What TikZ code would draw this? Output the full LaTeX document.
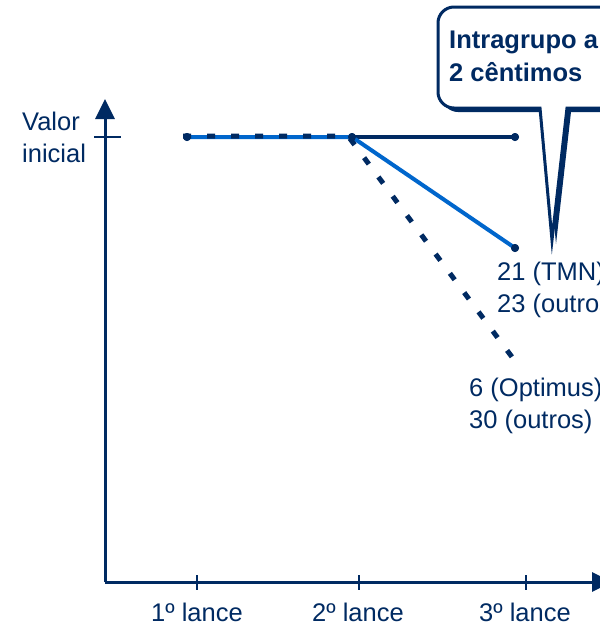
\documentclass[tikz,border=0pt]{standalone}
\usepackage{fontspec}
\setmainfont{Liberation Sans}
\usetikzlibrary{arrows.meta}
\definecolor{navy}{RGB}{0,42,98}
\definecolor{lineblue}{RGB}{0,102,204}
\tikzset{
  axisline/.style={draw=navy, line width=3pt},
  tickline/.style={draw=navy, line width=2pt},
  lbl/.style={text=navy, font=\fontsize{25.5}{32}\selectfont, inner sep=0pt},
  calltext/.style={text=navy, font=\fontsize{25.5}{33}\selectfont\bfseries, inner sep=0pt},
  dot/.style={circle, fill=navy, minimum size=8pt, inner sep=0pt},
  flatline/.style={draw=navy, line width=3.5pt},
  blueline/.style={draw=lineblue, line width=4pt},
  dashline/.style={draw=navy, line width=5pt, dash pattern=on 8pt off 16pt},
}
\begin{document}
\begin{tikzpicture}[x=1pt,y=-1pt]
\useasboundingbox (0,0) rectangle (600,627);

% axes
\coordinate (o) at (105,582);
\coordinate (ytop) at (105,99);
\coordinate (xend) at (612,582);
\draw[axisline, -{Triangle[width=19pt,length=20pt]}] (o) -- (ytop);
\draw[axisline, -{Triangle[width=19pt,length=20pt]}] (o) -- (xend);

% ticks
\draw[tickline] (94,137) -- (121,137);
\foreach \x in {197,359,526} \draw[tickline] (\x,575) -- (\x,590);

% axis labels (base anchor sits on the last line)
\node[lbl, anchor=base west, align=left] (yl) at (22,162) {Valor\\inicial};
\node[lbl, anchor=base] (l1) at (197,621) {1º lance};
\node[lbl, anchor=base] (l2) at (358,621) {2º lance};
\node[lbl, anchor=base] (l3) at (525,621) {3º lance};

% points
\node[dot] (p1) at (187,137) {};
\node[dot] (p2) at (352,137) {};
\node[dot] (p3) at (515,137) {};
\node[dot] (p4) at (515,248) {};
\coordinate (p5) at (512,357);

% curves
\draw[flatline] (p1.center) -- (p3.center);
\draw[blueline] (p1.center) -- (p2.center) -- (p4.center);
\draw[dashline] (p1.center) ++(-4,-1) -- ++(165,0) -- (p5);
\node[dot] at (p1) {};
\node[dot] at (p2) {};
\node[dot] at (p3) {};
\node[dot] at (p4) {};

% end labels
\node[lbl, anchor=base west, align=left] (t1) at (497,312) {21 (TMN)\\23 (outros)};
\node[lbl, anchor=base west, align=left] (t2) at (469,428) {6 (Optimus)\\30 (outros)};

% callout with shadow
\def\calloutpath{(490,108) [rounded corners=16pt] -- (438,108) -- (438,7) -- (660,7) -- (660,108) [sharp corners] -- (567,108) -- (552,240) -- (540,108) -- cycle}
\fill[navy, shift={(4,4)}] \calloutpath;
\draw[navy, fill=white, line width=3pt] \calloutpath;
\node[calltext, anchor=base west, align=left] (ct) at (449,81) {Intragrupo a\\2 cêntimos};
\end{tikzpicture}
\end{document}
